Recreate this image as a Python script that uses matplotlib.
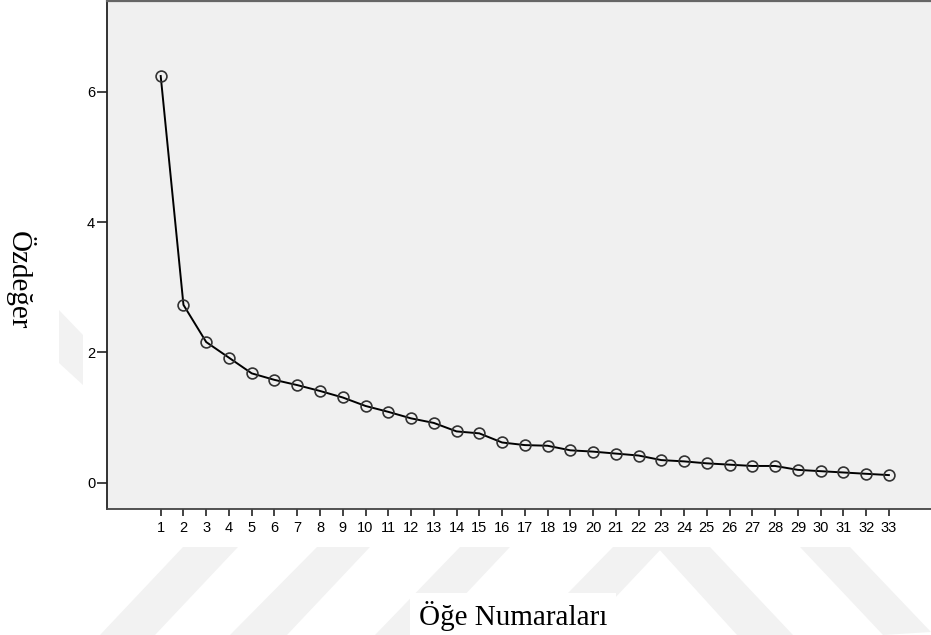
import matplotlib.pyplot as plt
from matplotlib.patches import Polygon

# scree plot values
items = list(range(1, 34))
eigenvalues = [6.24, 2.73, 2.16, 1.92, 1.68, 1.58, 1.50, 1.41, 1.31, 1.18,
               1.09, 0.99, 0.92, 0.79, 0.76, 0.62, 0.58, 0.57, 0.50, 0.48,
               0.45, 0.42, 0.35, 0.33, 0.30, 0.28, 0.26, 0.26, 0.20, 0.18,
               0.16, 0.14, 0.12]
y_ticks = [0, 2, 4, 6]

W, H = 931, 635
fig = plt.figure(figsize=(W / 100, H / 100), dpi=100)


def px(x, y):
    return (x / W, 1 - y / H)


# faint watermark bands behind everything
bands = [
    [(183, 547), (238, 547), (155, 635), (100, 635)],
    [(317, 547), (370, 547), (287, 635), (230, 635)],
    [(460, 547), (510, 547), (427, 635), (375, 635)],
    [(613, 547), (663, 547), (580, 635), (527, 635)],
    [(657, 547), (710, 547), (793, 635), (737, 635)],
    [(800, 547), (850, 547), (931, 632), (883, 635)],
    [(59, 310), (83, 335), (83, 385), (59, 363)],
]
for b in bands:
    fig.patches.append(Polygon([px(*p) for p in b], closed=True,
                               transform=fig.transFigure, facecolor='#f2f2f2',
                               edgecolor='none', zorder=0))

ax = fig.add_axes([107 / W, 1 - 509 / H, (W - 107) / W, 508 / H])
ax.set_facecolor('#f0f0f0')

ax.plot(items, eigenvalues, color='black', lw=1.4, zorder=2)
ax.plot(items, eigenvalues, linestyle='none', marker='o', markersize=7.8,
        markerfacecolor='none', markeredgecolor='#333333', markeredgewidth=1.2,
        zorder=3)

ax.set_xlim(-1.36, 34.85)
ax.set_ylim(-0.40, 7.39)
ax.set_xticks(items)
ax.set_yticks(y_ticks)

ax.tick_params(axis='x', direction='out', length=5, width=1.2, pad=3.5,
               labelsize=10.5, color='#222222')
ax.tick_params(axis='y', direction='out', length=7, width=1.2, pad=1.5,
               labelsize=10.5, color='#222222')
for lab in ax.get_xticklabels() + ax.get_yticklabels():
    lab.set_fontfamily('Liberation Sans')

ax.spines['right'].set_visible(False)
ax.spines['top'].set_color('#666666')
ax.spines['top'].set_linewidth(1.6)
ax.spines['left'].set_color('#222222')
ax.spines['left'].set_linewidth(1.3)
ax.spines['bottom'].set_color('#444444')
ax.spines['bottom'].set_linewidth(1.3)

fig.text(20 / W, 1 - 280 / H, 'Özdeğer', rotation=270, ha='center',
         va='center', fontsize=21, family='Liberation Serif')
fig.text(513 / W, 1 - 625 / H, 'Öğe Numaraları', ha='center', va='baseline',
         fontsize=21, family='Liberation Serif',
         bbox=dict(facecolor='white', edgecolor='none', pad=6))

fig.savefig('out.png', dpi=100)
